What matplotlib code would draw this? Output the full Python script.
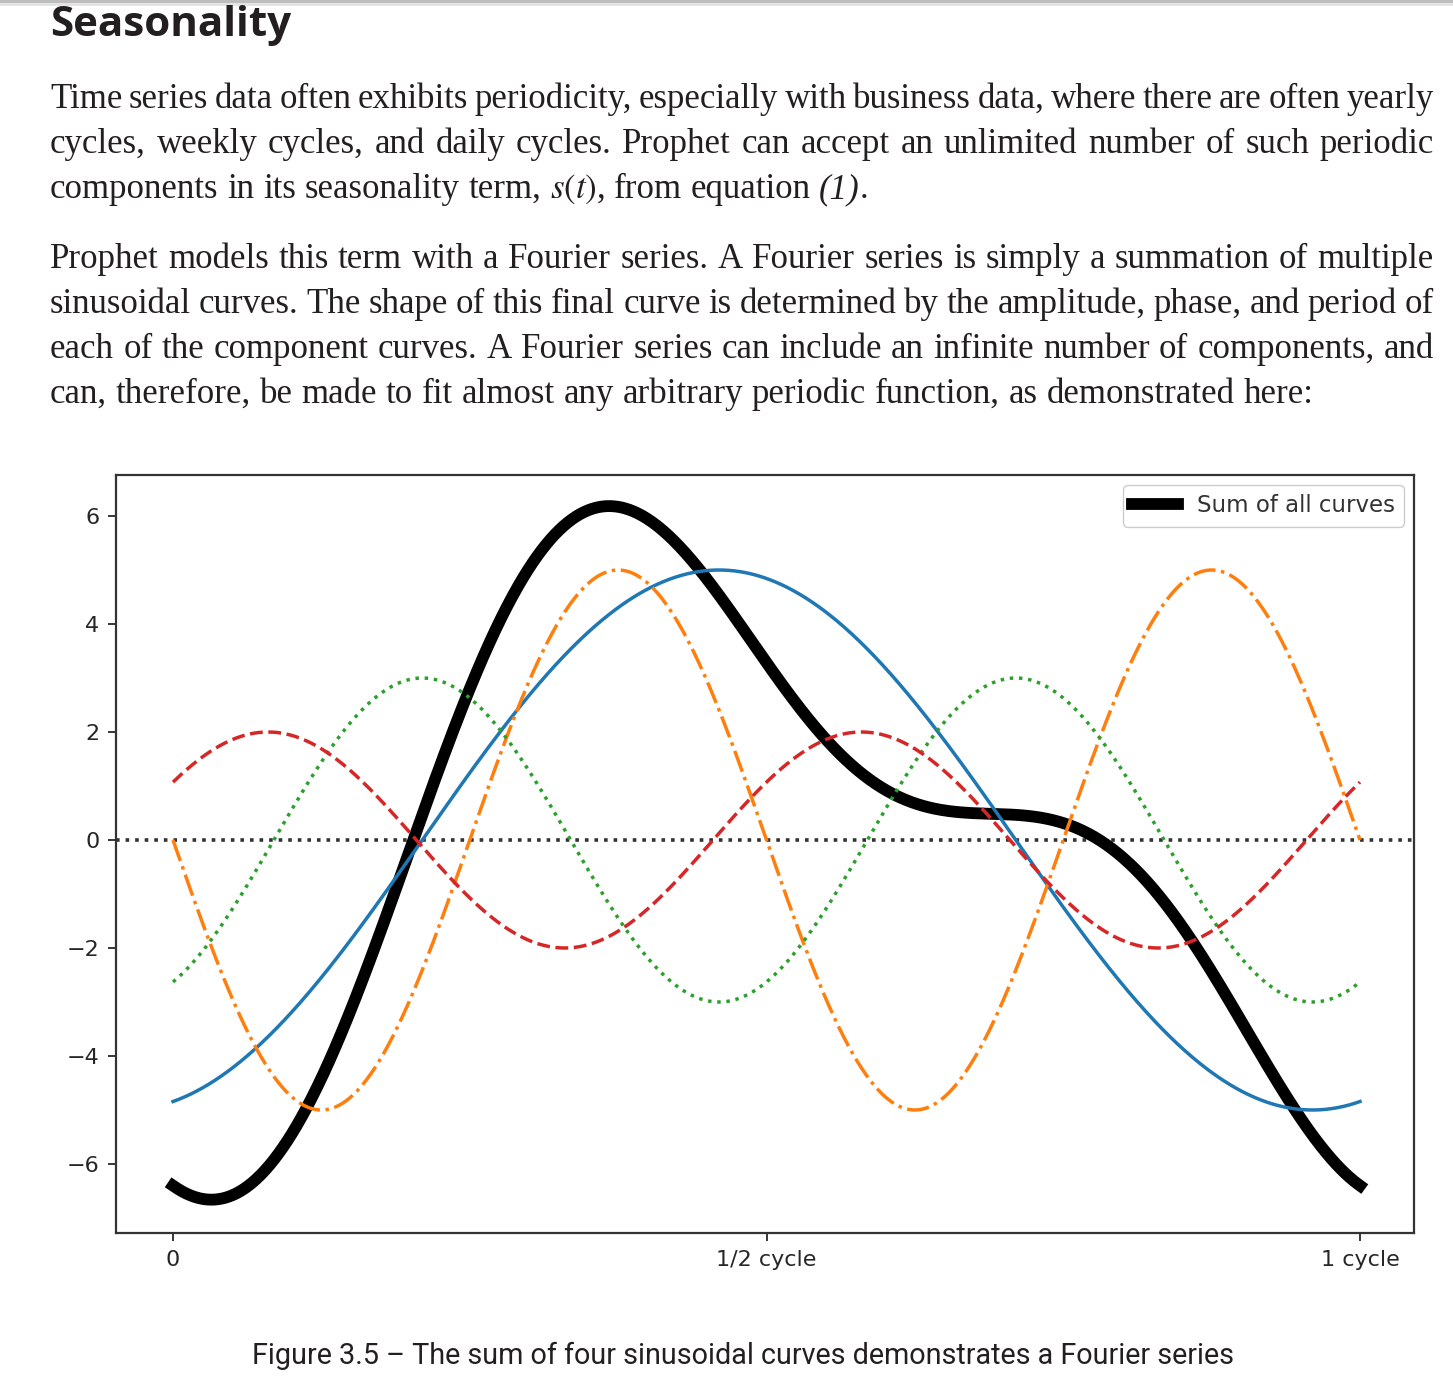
import numpy as np
import matplotlib
matplotlib.use('Agg')
import matplotlib.pyplot as plt
from matplotlib.patches import Rectangle

plt.rcParams['mathtext.fontset'] = 'stix'

# ---------------- chart data ----------------
x_ticks = [0, 0.5, 1]
x_tick_labels = ['0', '1/2 cycle', '1 cycle']
y_ticks = [-6, -4, -2, 0, 2, 4, 6]
# four sinusoidal components: amplitude, cycles per period, x of a peak
amplitudes = [5, 5, 3, 2]
cycles_per_period = [1, 2, 2, 2]
peak_positions = [0.46, 0.375, 0.21, 0.08]
sum_label = 'Sum of all curves'

# ---------------- page text ----------------
heading = 'Seasonality'
paragraph1 = [
    'Time series data often exhibits periodicity, especially with business data, where there are often yearly',
    'cycles, weekly cycles, and daily cycles. Prophet can accept an unlimited number of such periodic',
    'components in its seasonality term, $s(t)$, from equation (1).',
]
paragraph2 = [
    'Prophet models this term with a Fourier series. A Fourier series is simply a summation of multiple',
    'sinusoidal curves. The shape of this final curve is determined by the amplitude, phase, and period of',
    'each of the component curves. A Fourier series can include an infinite number of components, and',
    'can, therefore, be made to fit almost any arbitrary periodic function, as demonstrated here:',
]
caption = 'Figure 3.5 \u2013 The sum of four sinusoidal curves demonstrates a Fourier series'

# ---------------- layout ----------------
W, H, DPI = 1453, 1376, 100
fig = plt.figure(figsize=(W / DPI, H / DPI), dpi=DPI)
fig.patch.set_facecolor('white')
renderer = fig.canvas.get_renderer()
TEXT_COLOR = '#231f20'


def fx(px):
    return px / W


def fy(py):
    return 1 - py / H


def text_width(s, **kw):
    t = fig.text(0, 0, s, **kw)
    w = t.get_window_extent(renderer).width
    t.remove()
    return w


# top grey rule of the page
fig.patches.append(Rectangle((0, fy(3)), 1, 3 / H, transform=fig.transFigure,
                             color='#bdbdbd', lw=0))
fig.patches.append(Rectangle((0, fy(6)), 1, 3 / H, transform=fig.transFigure,
                             color='#e4e4e4', lw=0))

# heading
hkw = dict(family='Open Sans', weight='bold', color=TEXT_COLOR)
hfs = 28 * 241 / text_width(heading, fontsize=28, **hkw)
fig.text(fx(50), fy(36), heading, fontsize=hfs, va='baseline', ha='left', **hkw)

# body text (justified)
bkw = dict(family='Liberation Serif', color=TEXT_COLOR)
ref_line = paragraph2[-1]
bfs = 27 * 1261 / text_width(ref_line, fontsize=27, **bkw)


def segments(word):
    if word == '(1).':
        return [('(1)', {'style': 'italic'}), ('.', {})]
    return [(word, {})]


def word_width(word):
    return sum(text_width(s, fontsize=bfs, **bkw, **k) for s, k in segments(word))


ref_words = ref_line.split(' ')
nat_gap = (text_width(ref_line, fontsize=bfs, **bkw)
           - sum(word_width(w) for w in ref_words)) / (len(ref_words) - 1)

LEFT, RIGHT = 50, 1434


def draw_line(line, baseline, justify):
    words = line.split(' ')
    widths = [word_width(w) for w in words]
    if justify:
        gap = (RIGHT - LEFT - sum(widths)) / (len(words) - 1)
    else:
        gap = nat_gap
    xpos = LEFT
    for w, ww in zip(words, widths):
        xx = xpos
        for s, k in segments(w):
            fig.text(fx(xx), fy(baseline), s, fontsize=bfs, va='baseline', ha='left',
                     **bkw, **k)
            xx += text_width(s, fontsize=bfs, **bkw, **k)
        xpos += ww + gap


for i, line in enumerate(paragraph1):
    draw_line(line, 108 + 45 * i, justify=(i < len(paragraph1) - 1))
for i, line in enumerate(paragraph2):
    draw_line(line, 268 + 45 * i, justify=(i < len(paragraph2) - 1))

# caption
ckw = dict(family='Roboto', color=TEXT_COLOR)
cfs = 22 * 980 / text_width(caption, fontsize=22, **ckw)
fig.text(fx(252), fy(1364), caption, fontsize=cfs, va='baseline', ha='left', **ckw)

# ---------------- chart ----------------
ax = fig.add_axes([fx(116), fy(1233), (1414 - 116) / W, (1233 - 475) / H])

x = np.linspace(0, 1, 800)
components = [a * np.cos(2 * np.pi * c * (x - p))
              for a, c, p in zip(amplitudes, cycles_per_period, peak_positions)]
total = np.sum(components, axis=0)

ax.axhline(0, color='0.2', ls=':', lw=2.6, zorder=1.5)
ax.plot(x, total, color='k', lw=8.5, label=sum_label, zorder=2)
styles = [('-', '#1f77b4'), ('-.', '#ff7f0e'), (':', '#2ca02c'), ('--', '#d62728')]
for comp, (ls, col) in zip(components, styles):
    ax.plot(x, comp, ls=ls, color=col, lw=2.5, zorder=2.5)

ax.set_xlim((116 - 173) / 1187, (1414 - 173) / 1187)
ax.set_ylim(-(1233 - 840) / 54, (840 - 475) / 54)
ax.set_xticks(x_ticks, x_tick_labels)
ax.set_yticks(y_ticks)
ax.tick_params(labelsize=16, length=6, width=1.3, pad=6, colors='0.15')
for sp in ax.spines.values():
    sp.set_linewidth(1.6)
    sp.set_color('0.2')

leg = ax.legend(loc='upper right', fontsize=16.5, handlelength=2.0,
                framealpha=1, edgecolor='0.8', borderaxespad=0.45)
for t in leg.get_texts():
    t.set_color('0.2')

fig.savefig('out.png', dpi=DPI)
